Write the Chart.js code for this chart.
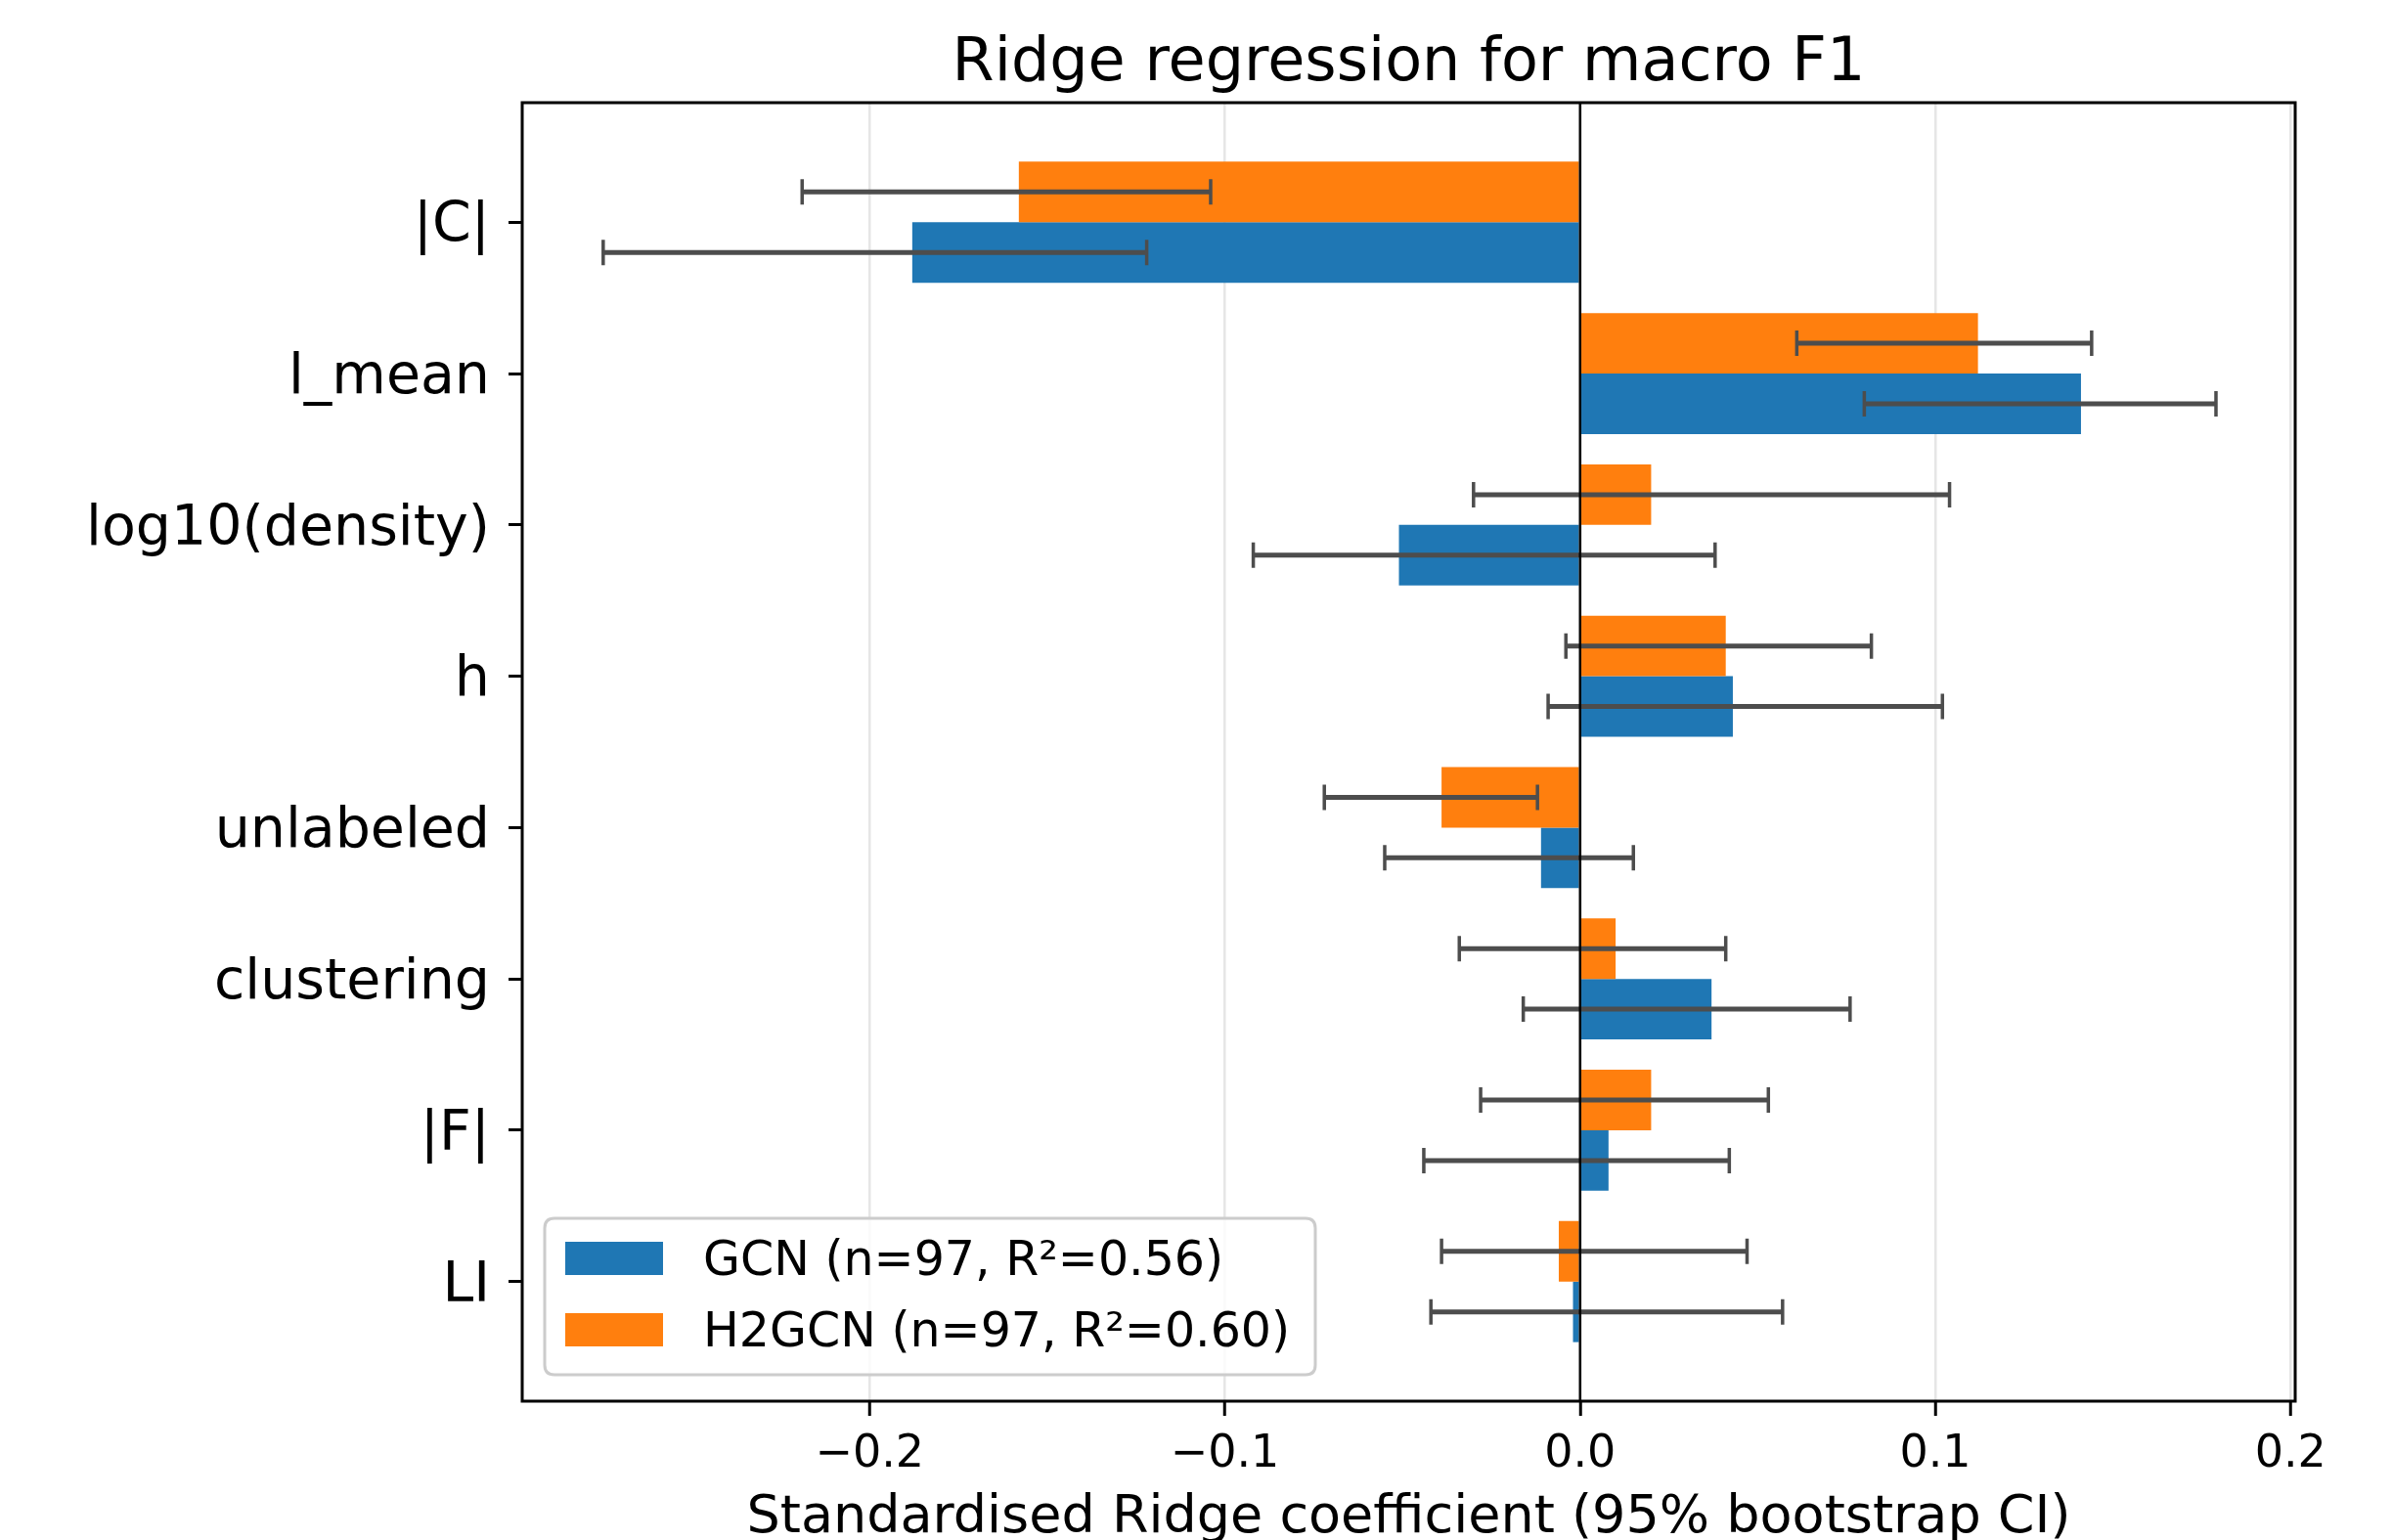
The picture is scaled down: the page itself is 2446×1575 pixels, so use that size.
<!DOCTYPE html>
<html>
<head>
<meta charset="utf-8">
<script src="https://cdn.jsdelivr.net/npm/chart.js@4.4.1/dist/chart.umd.min.js"></script>
<style>
  html, body { margin: 0; padding: 0; background: #ffffff; }
  #wrap { width: 2446px; height: 1575px; position: relative; }
  canvas { display: block; }
</style>
</head>
<body>
<div id="wrap"><canvas id="c" width="2446" height="1575"></canvas></div>
<script>
// ---- data ----
const categories = ['|C|', 'l_mean', 'log10(density)', 'h', 'unlabeled', 'clustering', '|F|', 'LI'];

const gcnLabel = 'GCN (n=97, R²=0.56)';
const gcnCoef = [-0.188, 0.141, -0.051, 0.043, -0.011, 0.037, 0.008, -0.002];
const gcnLo   = [-0.275, 0.080, -0.092, -0.009, -0.055, -0.016, -0.044, -0.042];
const gcnHi   = [-0.122, 0.179, 0.038, 0.102, 0.015, 0.076, 0.042, 0.057];

const h2Label = 'H2GCN (n=97, R²=0.60)';
const h2Coef = [-0.158, 0.112, 0.020, 0.041, -0.039, 0.010, 0.020, -0.006];
const h2Lo   = [-0.219, 0.061, -0.030, -0.004, -0.072, -0.034, -0.028, -0.039];
const h2Hi   = [-0.104, 0.144, 0.104, 0.082, -0.012, 0.041, 0.053, 0.047];

const xTicks = [-0.2, -0.1, 0.0, 0.1, 0.2];
const xTickLabels = ['\u22120.2', '\u22120.1', '0.0', '0.1', '0.2'];
const xMin = -0.2978, xMax = 0.2013;

const titleText = 'Ridge regression for macro F1';
const xAxisTitle = 'Standardised Ridge coefficient (95% bootstrap CI)';

const FONT = "'DejaVu Sans', 'Liberation Sans', sans-serif";

// ---- build datasets ----
function toPoints(vals) { return vals.map((v, i) => ({ x: v, y: i })); }

const datasets = [
  { label: gcnLabel, data: toPoints(gcnCoef), errLo: gcnLo, errHi: gcnHi,
    backgroundColor: '#1f77b4', order: 1 },
  { label: h2Label, data: toPoints(h2Coef), errLo: h2Lo, errHi: h2Hi,
    backgroundColor: '#ff7f0e', order: 0 }
];

// ---- plugins ----
const errorBarsAndZero = {
  id: 'errorBarsAndZero',
  afterDatasetsDraw(chart) {
    const ctx = chart.ctx, xs = chart.scales.x, area = chart.chartArea;
    ctx.save();
    chart.data.datasets.forEach((ds, di) => {
      const meta = chart.getDatasetMeta(di);
      meta.data.forEach((bar, i) => {
        const y = bar.y;
        const x1 = xs.getPixelForValue(ds.errLo[i]);
        const x2 = xs.getPixelForValue(ds.errHi[i]);
        ctx.strokeStyle = '#4d4d4d';
        ctx.lineCap = 'butt';
        ctx.lineWidth = 5;
        ctx.beginPath(); ctx.moveTo(x1, y); ctx.lineTo(x2, y); ctx.stroke();
        ctx.lineWidth = 3.5;
        ctx.beginPath();
        ctx.moveTo(x1, y - 13); ctx.lineTo(x1, y + 13);
        ctx.moveTo(x2, y - 13); ctx.lineTo(x2, y + 13);
        ctx.stroke();
      });
    });
    // vertical zero line
    const x0 = xs.getPixelForValue(0);
    ctx.strokeStyle = '#000000';
    ctx.lineWidth = 2.5;
    ctx.beginPath(); ctx.moveTo(x0, area.top); ctx.lineTo(x0, area.bottom); ctx.stroke();
    ctx.restore();
  }
};

const frameTitleLegend = {
  id: 'frameTitleLegend',
  afterDraw(chart) {
    const ctx = chart.ctx, a = chart.chartArea;
    ctx.save();
    // axes frame
    ctx.strokeStyle = '#000000';
    ctx.lineWidth = 3;
    ctx.strokeRect(a.left, a.top, a.right - a.left, a.bottom - a.top);
    // title
    ctx.fillStyle = '#000000';
    ctx.font = '62px ' + FONT;
    ctx.textAlign = 'center';
    ctx.textBaseline = 'alphabetic';
    ctx.fillText(titleText, (a.left + a.right) / 2, 82);
    // legend (lower left, inside axes)
    const bx = a.left + 23, bw = 788, bh = 160;
    const by = a.bottom - 27 - bh;
    const r = 10;
    ctx.beginPath();
    ctx.moveTo(bx + r, by);
    ctx.lineTo(bx + bw - r, by); ctx.quadraticCurveTo(bx + bw, by, bx + bw, by + r);
    ctx.lineTo(bx + bw, by + bh - r); ctx.quadraticCurveTo(bx + bw, by + bh, bx + bw - r, by + bh);
    ctx.lineTo(bx + r, by + bh); ctx.quadraticCurveTo(bx, by + bh, bx, by + bh - r);
    ctx.lineTo(bx, by + r); ctx.quadraticCurveTo(bx, by, bx + r, by);
    ctx.closePath();
    ctx.fillStyle = 'rgba(255,255,255,0.8)';
    ctx.fill();
    ctx.strokeStyle = '#cccccc';
    ctx.lineWidth = 3;
    ctx.stroke();
    ctx.font = '49px ' + FONT;
    ctx.textAlign = 'left';
    ctx.textBaseline = 'middle';
    chart.data.datasets.forEach((ds, i) => {
      const cy = by + 41 + i * 73;
      ctx.fillStyle = ds.backgroundColor;
      ctx.fillRect(bx + 21, cy - 17, 100, 34);
      ctx.fillStyle = '#000000';
      ctx.fillText(ds.label, bx + 162, cy + 4);
    });
    ctx.restore();
  }
};

Chart.defaults.font.family = FONT;
Chart.defaults.color = '#000000';

new Chart(document.getElementById('c'), {
  type: 'bar',
  data: { datasets: datasets },
  options: {
    indexAxis: 'y',
    responsive: false,
    animation: false,
    devicePixelRatio: 1,
    barPercentage: 1.0,
    categoryPercentage: 0.8,
    layout: { padding: { top: 105, right: 99, bottom: 0, left: 0 } },
    datasets: { bar: { borderWidth: 0 } },
    plugins: {
      legend: { display: false },
      title: { display: false },
      tooltip: { enabled: false }
    },
    scales: {
      x: {
        type: 'linear',
        position: 'bottom',
        offset: false,
        min: xMin,
        max: xMax,
        afterBuildTicks(scale) { scale.ticks = xTicks.map(v => ({ value: v })); },
        afterFit(scale) { scale.height = 142; },
        ticks: {
          font: { size: 46, family: FONT },
          color: '#000000',
          padding: 12,
          maxRotation: 0,
          autoSkip: false,
          callback: (v) => { const k = xTicks.findIndex(t => Math.abs(t - v) < 1e-9); return k >= 0 ? xTickLabels[k] : ''; }
        },
        grid: {
          display: true,
          offset: false,
          drawOnChartArea: true,
          drawTicks: true,
          color: '#e6e6e6',
          lineWidth: 2.5,
          tickColor: '#000000',
          tickWidth: 3,
          tickLength: 15
        },
        border: { display: false },
        title: {
          display: true,
          text: xAxisTitle,
          font: { size: 54, family: FONT, lineHeight: 1 },
          color: '#000000',
          padding: { top: 0, bottom: -5 }
        }
      },
      y: {
        type: 'linear',
        position: 'left',
        reverse: true,
        offset: false,
        min: -0.79,
        max: categories.length - 1 + 0.79,
        afterBuildTicks(scale) { scale.ticks = categories.map((c, i) => ({ value: i })); },
        afterFit(scale) { scale.width = 534; },
        ticks: {
          font: { size: 57, family: FONT },
          color: '#000000',
          padding: 19,
          labelOffset: 5,
          autoSkip: false,
          callback: (v) => categories[Math.round(v)] ?? ''
        },
        grid: {
          display: true,
          offset: false,
          drawOnChartArea: false,
          drawTicks: true,
          tickColor: '#000000',
          tickWidth: 3,
          tickLength: 14
        },
        border: { display: false }
      }
    }
  },
  plugins: [errorBarsAndZero, frameTitleLegend]
});
</script>
</body>
</html>
